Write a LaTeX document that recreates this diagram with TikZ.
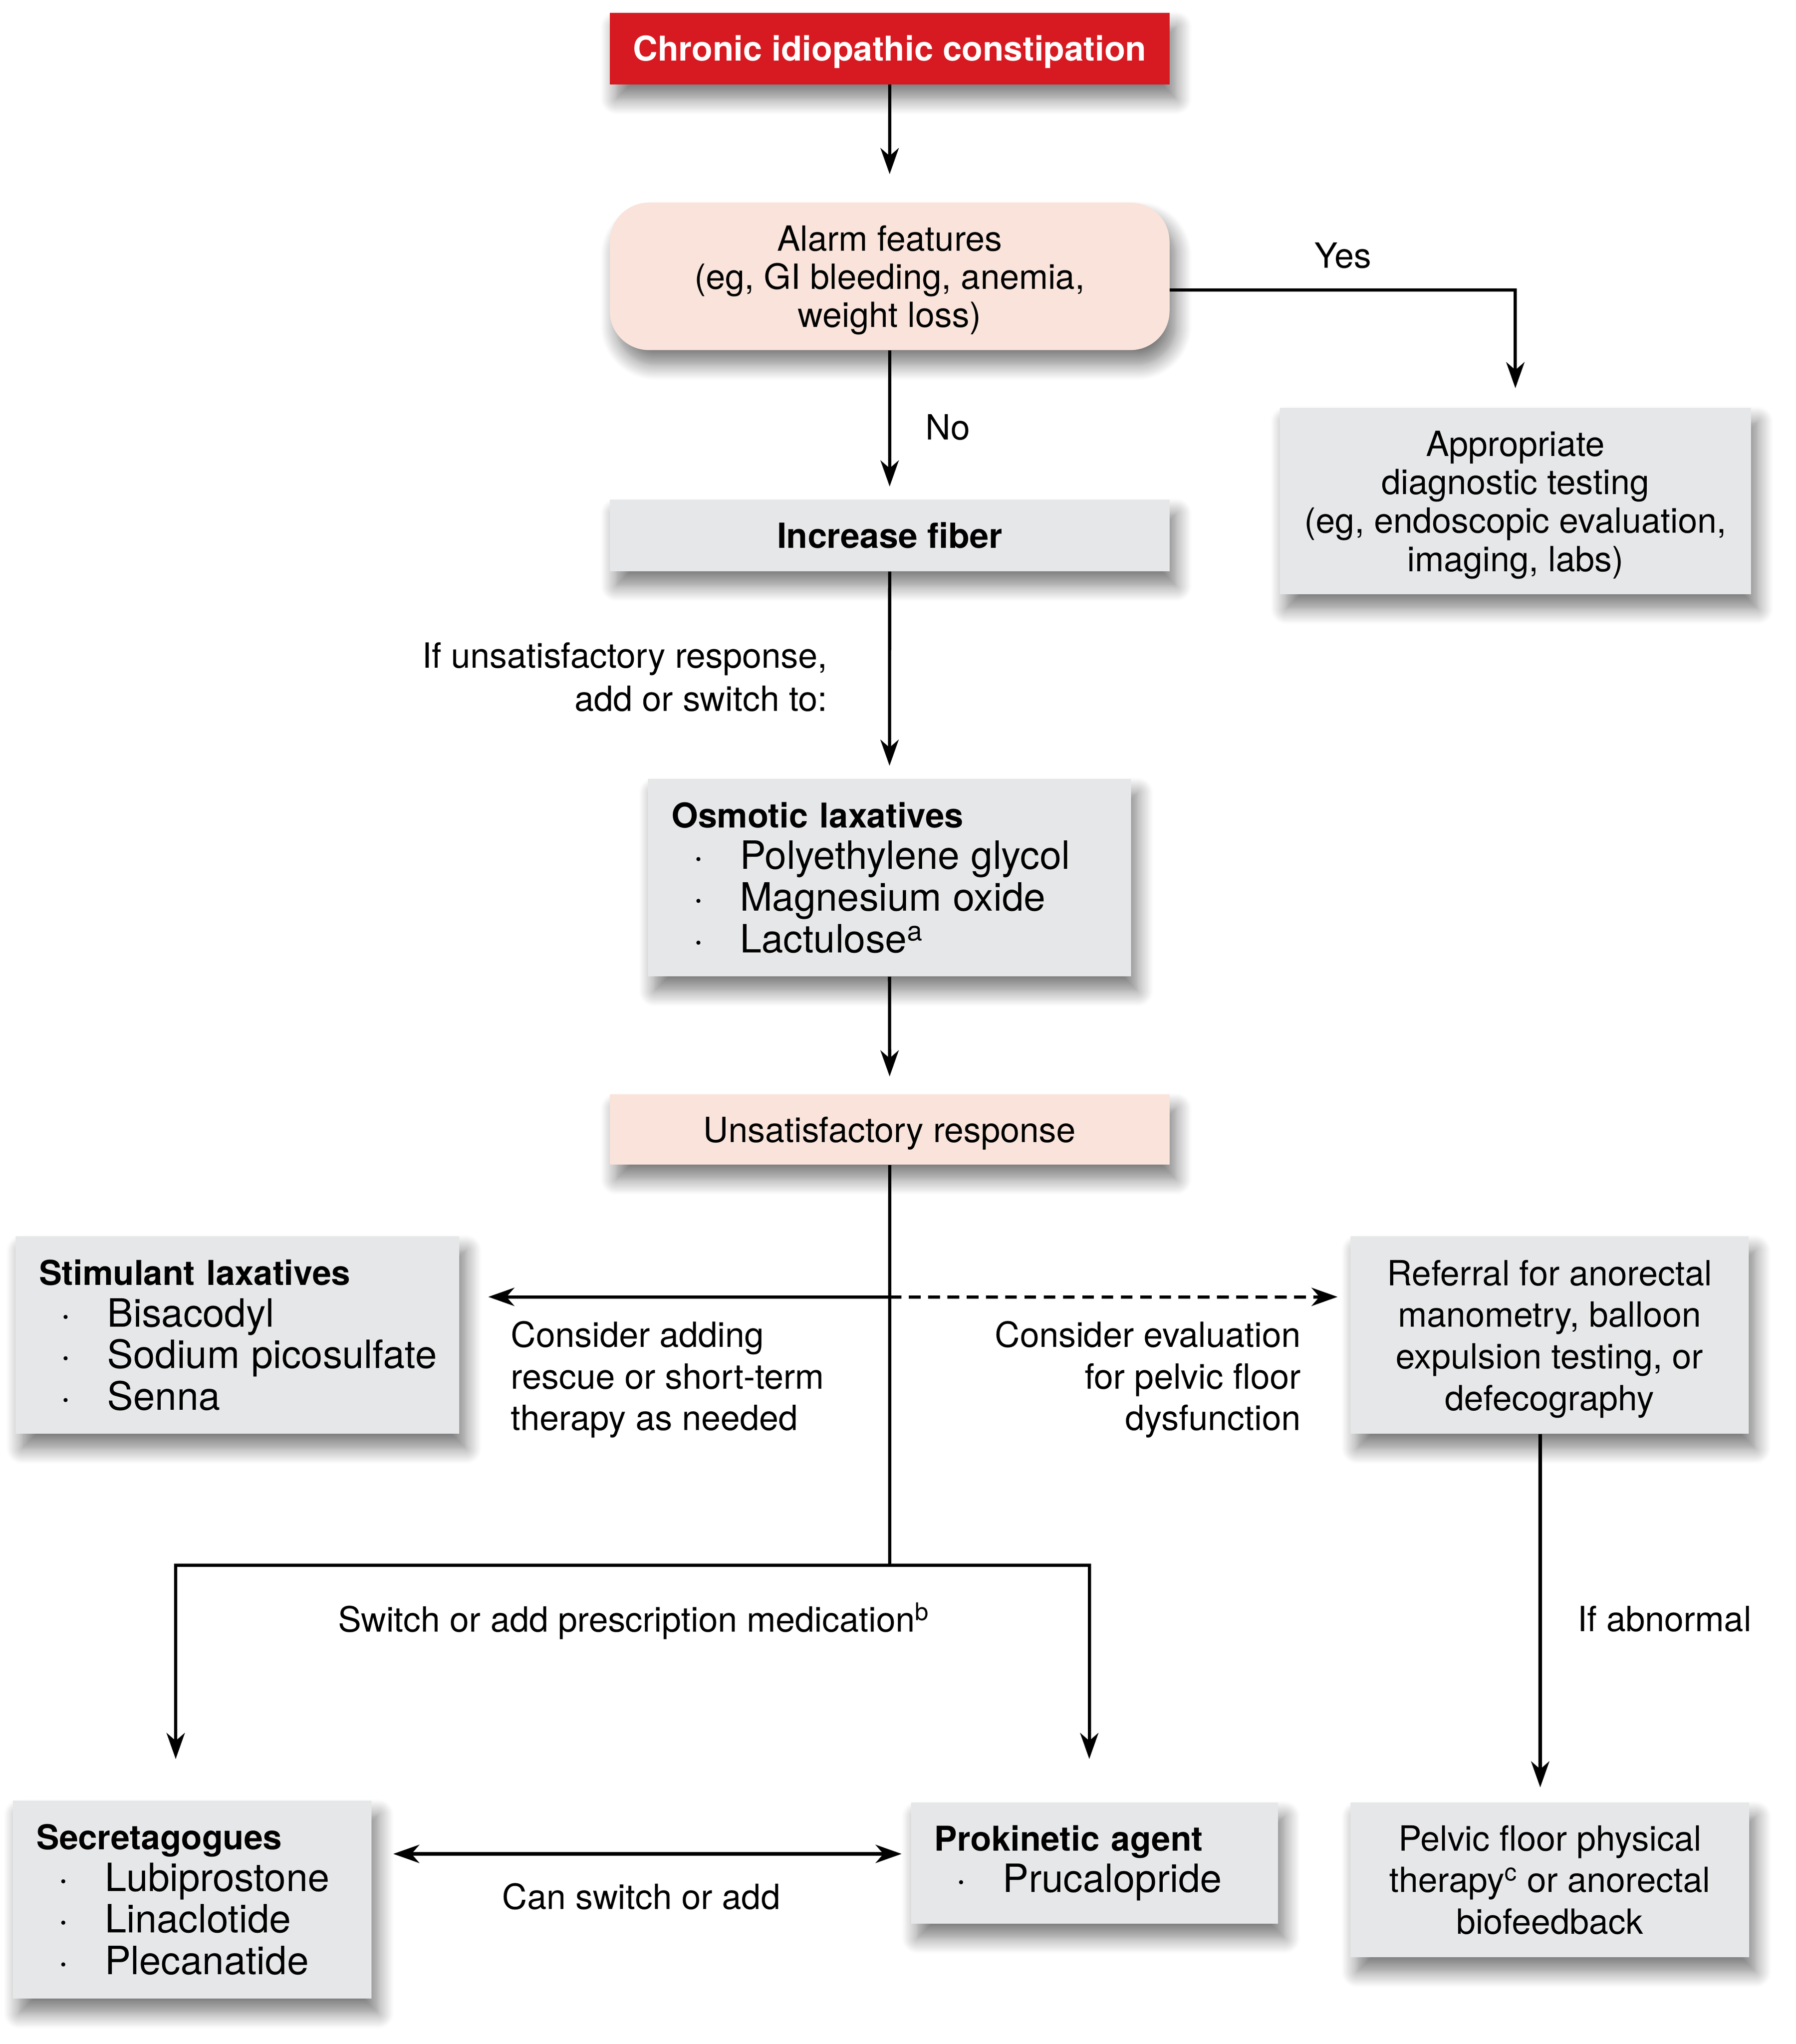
\documentclass[tikz,border=0pt]{standalone}
\usepackage{fontspec}
\setmainfont{TeX Gyre Heros}
\usetikzlibrary{arrows.meta,shadows.blur}
\definecolor{cred}{HTML}{D71A21}
\definecolor{cpeach}{HTML}{F9E3DA}
\definecolor{cgray}{HTML}{E6E7E8}
\newcommand\lit[1]{{\fontsize{30}{32}\selectfont\mbox{\hspace*{16.5pt}\makebox[36pt][l]{·}#1}}}
\newcommand\hd[1]{{\fontsize{26.3}{32}\selectfont\bfseries #1}}
\newcommand\tstrut{\rule{0pt}{25.5pt}}
\tikzset{
  shad/.style={blur shadow={shadow xshift=5pt,shadow yshift=-11pt,shadow blur radius=12pt,shadow opacity=52,shadow blur steps=12}},
  basebox/.style={shad,inner sep=0pt,minimum width=#1},
  cbox/.style={basebox=#1,fill=cgray,align=center,font=\fontsize{26.7}{32}\selectfont},
  lbox/.style={shad,fill=cgray,inner ysep=0pt,inner xsep=18pt,text width=#1,align=left,font=\fontsize{26.7}{32}\selectfont},
  lbl/.style={inner sep=0pt,font=\fontsize{26.7}{32}\selectfont},
  ln/.style={line width=2.5pt,draw=black},
  arr/.style={ln,-{Stealth[length=20pt,width=14pt,inset=6pt]}},
  darr/.style={ln,{Stealth[length=20pt,width=14pt,inset=6pt]}-{Stealth[length=20pt,width=14pt,inset=6pt]}},
  dsh/.style={dash pattern=on 9pt off 5.8pt}
}
\begin{document}
\begin{tikzpicture}[x=1pt,y=-1pt]
\useasboundingbox (0,0) rectangle (1380,1570.6);
% boxes
\node[basebox=430.1,minimum height=54.9,fill=cred,text=white,font=\fontsize{26.3}{30}\selectfont\bfseries,text height=18.9pt,text depth=0pt] (title) at (683.6,37.35) {Chronic idiopathic constipation};
\node[basebox=430.1,minimum height=113.3,fill=cpeach,rounded corners=30pt,align=center,font=\fontsize{26.7}{29.4}\selectfont] (alarm) at (683.6,212.35) {\tstrut Alarm features\\(eg, GI bleeding, anemia,\\weight loss)};
\node[cbox=362,minimum height=143.3,font=\fontsize{26.7}{29.6}\selectfont] (diag) at (1164.4,384.95) {\tstrut Appropriate\\diagnostic testing\\(eg, endoscopic evaluation,\\imaging, labs)};
\node[basebox=430.1,minimum height=55,fill=cgray,font=\fontsize{26.6}{30}\selectfont\bfseries,text height=19.1pt,text depth=0pt] (fiber) at (683.6,411.5) {Increase fiber};
\node[lbox=335,minimum height=151.9] (osm) at (683.5,674.35) {\hd{Osmotic laxatives}\\\lit{Polyethylene glycol}\\\lit{Magnesium oxide}\\\lit{Lactulose\textsuperscript{a}}};
\node[basebox=430.1,minimum height=54,fill=cpeach,font=\fontsize{26.7}{30}\selectfont,text height=19.2pt,text depth=0pt] (unsat) at (683.6,868) {Unsatisfactory response};
\node[lbox=305,minimum height=151.8] (stim) at (182.5,1025.9) {\hd{Stimulant laxatives}\\\lit{Bisacodyl}\\\lit{Sodium picosulfate}\\\lit{Senna}};
\node[cbox=305.8,minimum height=151.8] (refer) at (1190.7,1025.9) {\tstrut Referral for anorectal\\manometry, balloon\\expulsion testing, or\\defecography};
\node[lbox=239.5,minimum height=152.1] (secr) at (147.75,1459.65) {\hd{Secretagogues}\\\lit{Lubiprostone}\\\lit{Linaclotide}\\\lit{Plecanatide}};
\node[lbox=246,minimum height=93] (prok) at (841,1431.5) {\hd{Prokinetic agent}\\\lit{Prucalopride}};
\node[cbox=306.2,minimum height=119] (pelvic) at (1190.9,1444.5) {Pelvic floor physical\\therapy\textsuperscript{c} or anorectal\\biofeedback};
% labels
\node[lbl,anchor=base west] (yes) at (1010,206) {Yes};
\node[lbl,anchor=base west] (no) at (711,338) {No};
\node[lbl,anchor=north east,align=right,font=\fontsize{26.7}{33}\selectfont] (ifun) at (636,493.5) {If unsatisfactory response,\\add or switch to:};
\node[lbl,anchor=north west,align=left] (cadd) at (392.5,1015) {Consider adding\\rescue or short-term\\therapy as needed};
\node[lbl,anchor=north east,align=right] (ceval) at (999.7,1015) {Consider evaluation\\for pelvic floor\\dysfunction};
\node[lbl,anchor=base west] (ifab) at (1212,1253.5) {If abnormal};
\node[lbl,anchor=base] (swadd) at (486.8,1254) {Switch or add prescription medication\textsuperscript{b}};
\node[lbl,anchor=base] (cansw) at (492.7,1467) {Can switch or add};
% coordinates
\coordinate (yc) at (1164.4,222.7);
\coordinate (hl) at (683.6,996.5);
\coordinate (jn) at (683.6,1202.6);
\coordinate (jl) at (135,1202.6);
\coordinate (jr) at (837,1202.6);
\coordinate (px) at (1183.5,0);
\coordinate (dy) at (0,1424.5);
% connectors
\draw[arr,shorten >=21.7pt] (title.south) -- (alarm.north);
\draw[arr,shorten >=10pt] (alarm.south) -- (fiber.north);
\draw[arr,shorten >=14.8pt] (alarm.east |- yc) -- (yc) -- (diag.north);
\draw[arr,shorten >=9.8pt] (fiber.south) -- (osm.north);
\draw[arr,shorten >=13.7pt] (osm.south) -- (unsat.north);
\draw[ln] (unsat.south) -- (jn);
\draw[arr,shorten >=22pt] (hl) -- (stim.east |- hl);
\draw[arr,dsh,shorten >=9.8pt] (hl) -- (refer.west |- hl);
\draw[arr,shorten >=31.8pt] (jn) -- (jl) -- (jl |- secr.north);
\draw[arr,shorten >=33.2pt] (jn) -- (jr) -- (jr |- prok.north);
\draw[arr,shorten >=11.4pt] (px |- refer.south) -- (px |- pelvic.north);
\draw[darr,shorten <=16.5pt,shorten >=7pt] (secr.east |- dy) -- (prok.west |- dy);
\end{tikzpicture}
\end{document}
